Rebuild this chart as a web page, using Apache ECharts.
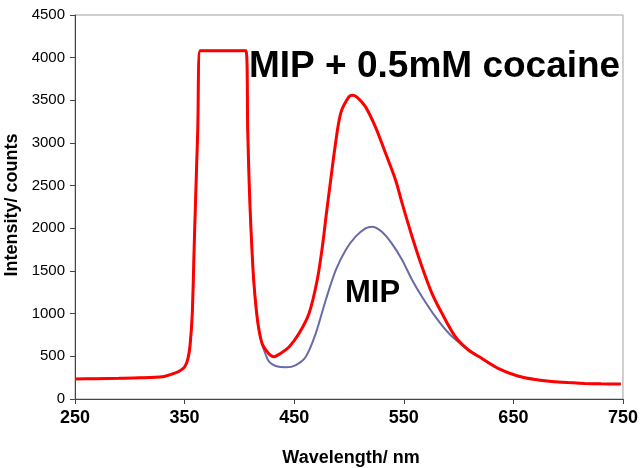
<!DOCTYPE html>
<html>
<head>
<meta charset="utf-8">
<script src="https://cdn.jsdelivr.net/npm/echarts@6/dist/echarts.min.js"></script>
<style>html,body{margin:0;padding:0;background:#fff}#c{width:641px;height:468px}</style>
</head>
<body>
<div id="c"></div>
<script>
// Wavelength (nm) and intensity (counts) for MIP + 0.5mM cocaine (red)
var cocaineWl = [250,270,290,310,330,337,345,350,353,355,357,359,362,364.3,385,406,407.6,409,410.6,413,415.7,418,421,425,428,431.8,437,445.5,454.5,463.6,471,475.7,479.4,483.3,487.3,492.4,500,503.6,508,515,524,533.4,542.5,548.5,557.6,566.6,575.7,584.8,597,609,621,636,654,670,685,700,715,730,748];
var cocaineVals = [234,238,242,248,262,285,325,375,470,630,1000,1900,3150,4080,4080,4080,3150,2500,1980,1400,1010,800,640,560,515,496,530,613,770,1005,1395,1785,2176,2566,2957,3348,3543,3560,3530,3426,3191,2879,2566,2293,1902,1550,1238,1004,730,574,477,360,270,228,205,192,183,178,175];
// MIP alone (blue)
var mipWl = [250,270,290,310,330,337,345,350,353,355,357,359,362,364.3,385,406,407.6,409,410.6,413,415.7,418,421,424,427,433,442.5,451.5,460.6,469.7,478.8,488,497,506,515,521,530,539,548.5,557.6,566.6,578.8,591,603,609,621,636,654,670,685,700,715,730,748];
var mipVals = [234,238,242,248,262,285,325,375,470,630,1000,1900,3150,4080,4080,4080,3150,2500,1980,1400,1010,800,630,520,437,387,371,398,496,770,1160,1512,1746,1902,2000,2020,1961,1824,1629,1395,1199,965,770,633,574,477,360,270,228,205,192,183,178,175];
var xTicks = [250,350,450,550,650,750];
var yTicks = [0,500,1000,1500,2000,2500,3000,3500,4000,4500];
var labelCocaine = 'MIP + 0.5mM cocaine';
var labelMip = 'MIP';
var xName = 'Wavelength/ nm';
var yName = 'Intensity/ counts';

function pairs(xs, ys){ return xs.map(function(x,i){ return [x, ys[i]]; }); }

var FONT = '"Liberation Sans", Arial, sans-serif';
var chart = echarts.init(document.getElementById('c'), null, {renderer:'canvas'});
chart.setOption({
  animation:false,
  backgroundColor:'#fff',
  grid:{left:75,right:16,top:15,bottom:69,show:true,borderColor:'#a0a0a0',borderWidth:1,backgroundColor:'transparent'},
  xAxis:{type:'value',min:xTicks[0],max:xTicks[xTicks.length-1],interval:100,
    axisLine:{show:true,onZero:false,lineStyle:{color:'#444',width:1}},
    axisTick:{show:true,inside:false,length:5,lineStyle:{color:'#444'}},
    splitLine:{show:false},
    axisLabel:{color:'#000',fontFamily:FONT,fontSize:18,fontWeight:'bold',margin:10,formatter:function(v){return String(v);}}},
  yAxis:{type:'value',min:yTicks[0],max:yTicks[yTicks.length-1],interval:500,
    axisLine:{show:true,lineStyle:{color:'#444',width:1}},
    axisTick:{show:true,inside:false,length:5,lineStyle:{color:'#444'}},
    splitLine:{show:false},
    axisLabel:{color:'#000',fontFamily:FONT,fontSize:15,margin:10,formatter:function(v){return String(v);}}},
  series:[
    {type:'line',data:pairs(mipWl,mipVals),smooth:0.3,showSymbol:false,
      lineStyle:{color:'#6a6aa6',width:2},z:2},
    {type:'line',data:pairs(cocaineWl,cocaineVals),smooth:0.3,showSymbol:false,
      lineStyle:{color:'#ff0000',width:3},z:3}
  ],
  graphic:[
    {type:'text',x:249,y:67,style:{text:labelCocaine,fill:'#000',font:'bold 37px '+FONT,align:'left',verticalAlign:'middle'}},
    {type:'text',x:345,y:293,style:{text:labelMip,fill:'#000',font:'bold 31px '+FONT,align:'left',verticalAlign:'middle'}},
    {type:'text',x:351,y:458,style:{text:xName,fill:'#000',font:'bold 18px '+FONT,align:'center',verticalAlign:'middle'}},
    {type:'text',x:12,y:205,rotation:Math.PI/2,style:{text:yName,fill:'#000',font:'bold 18px '+FONT,align:'center',verticalAlign:'middle'}}
  ]
});
</script>
</body>
</html>
